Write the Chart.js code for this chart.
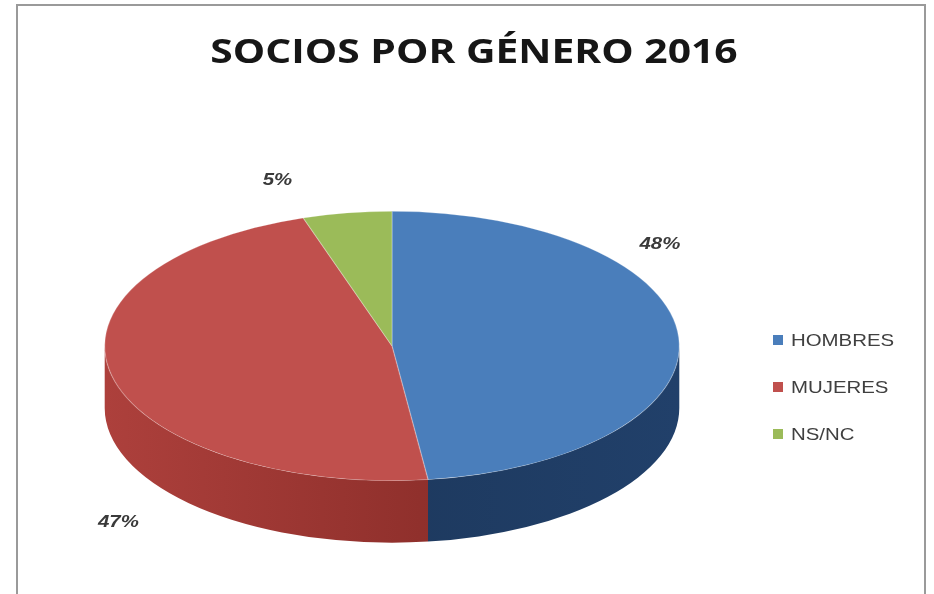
<!DOCTYPE html>
<html lang="es">
<head>
<meta charset="utf-8">
<title>Socios por género 2016</title>
<script src="https://cdn.jsdelivr.net/npm/chart.js@4.4.1/dist/chart.umd.min.js"></script>
<style>
  html, body { margin: 0; padding: 0; background: #fff; }
  .wrap { position: relative; width: 934px; height: 594px; overflow: hidden; }
  .frame {
    position: absolute; left: 16px; top: 4px; width: 906px; height: 640px;
    border: 2px solid #9a9a9a; pointer-events: none;
  }
</style>
</head>
<body>
<div class="wrap">
  <canvas id="pieChart" width="934" height="594"></canvas>
  <div class="frame"></div>
</div>
<script>
const chartTitle = "SOCIOS POR GÉNERO 2016";
const labels = ["HOMBRES", "MUJERES", "NS/NC"];
const socios = [48, 47, 5];

const topColors = ["#4A7EBB", "#C0504D", "#9BBB59"];
// side wall shading, left stop -> right stop
const sideColors = [
  ["#1A3354", "#21406A"],
  ["#AD403C", "#78231F"],
  ["#6F8A3A", "#5E7730"],
];

// text stretched sideways, like the rest of the sheet
function wideText(ctx, text, x, y, stretch) {
  ctx.save();
  ctx.translate(x, y);
  ctx.scale(stretch, 1);
  ctx.fillText(text, 0, 0);
  ctx.restore();
}

// fake 3D: squash the pie into an ellipse and draw a wall under the front half
const pie3d = {
  id: "pie3d",
  beforeDatasetsDraw(chart, args, opts) {
    const ctx = chart.ctx;
    const arcs = chart.getDatasetMeta(0).data;
    const { x, y, outerRadius } = arcs[0];
    const rx = outerRadius * opts.scaleX;
    const ry = outerRadius * opts.scaleY;
    const ey = y - opts.depth / 2;

    arcs.forEach((arc, i) => {
      const a1 = Math.max(arc.startAngle, 0);
      const a2 = Math.min(arc.endAngle, Math.PI);
      if (a2 <= a1) return;
      const g = ctx.createLinearGradient(x - rx, 0, x + rx, 0);
      g.addColorStop(0, sideColors[i][0]);
      g.addColorStop(1, sideColors[i][1]);
      ctx.beginPath();
      ctx.ellipse(x, ey, rx, ry, 0, a1, a2);
      ctx.ellipse(x, ey + opts.depth, rx, ry, 0, a2, a1, true);
      ctx.closePath();
      ctx.fillStyle = g;
      ctx.fill();
    });

    ctx.save();
    ctx.translate(x, ey);
    ctx.scale(opts.scaleX, opts.scaleY);
    ctx.translate(-x, -y);
  },
  afterDatasetsDraw(chart, args, opts) {
    const ctx = chart.ctx;
    ctx.restore();

    const arcs = chart.getDatasetMeta(0).data;
    const { x, y, outerRadius } = arcs[0];
    const rx = outerRadius * opts.scaleX;
    const ry = outerRadius * opts.scaleY;
    const ey = y - opts.depth / 2;
    const values = chart.data.datasets[0].data;
    const total = values.reduce((s, v) => s + v, 0);

    // percentage labels
    ctx.save();
    ctx.font = opts.labelFont;
    ctx.fillStyle = "#3a3a3a";
    ctx.textAlign = "center";
    ctx.textBaseline = "middle";
    values.forEach((v, i) => {
      const spot = opts.labelSpots[i];
      const a = spot.angle * Math.PI / 180;
      const lx = x + Math.sin(a) * rx * spot.dist;
      const ly = ey - Math.cos(a) * ry * spot.dist;
      wideText(ctx, Math.round(v / total * 100) + "%", lx, ly, opts.stretch);
    });
    ctx.restore();

    // legend
    const lg = opts.legend;
    ctx.save();
    ctx.font = lg.font;
    ctx.textBaseline = "middle";
    ctx.textAlign = "left";
    chart.data.labels.forEach((name, i) => {
      const rowY = lg.top + i * lg.gap;
      ctx.fillStyle = topColors[i];
      ctx.fillRect(lg.left, rowY - lg.box / 2, lg.box, lg.box);
      ctx.fillStyle = "#404040";
      wideText(ctx, name, lg.left + lg.box + 8, rowY + 1, opts.stretch);
    });
    ctx.restore();

    // title
    const tt = opts.title;
    ctx.save();
    ctx.font = tt.font;
    ctx.fillStyle = "#161616";
    ctx.textAlign = "center";
    ctx.textBaseline = "middle";
    wideText(ctx, chartTitle, tt.x, tt.y, opts.stretch);
    ctx.restore();
  },
};

new Chart(document.getElementById("pieChart"), {
  type: "pie",
  data: {
    labels: labels,
    datasets: [
      {
        data: socios,
        backgroundColor: topColors,
        borderColor: "rgba(255,255,255,0.25)",
        borderWidth: 1,
        clip: false,
      },
    ],
  },
  options: {
    responsive: false,
    animation: false,
    events: [],
    layout: { padding: { left: 19, right: 169, top: 160, bottom: 0 } },
    plugins: {
      legend: { display: false },
      tooltip: { enabled: false },
      title: { display: false },
      pie3d: {
        scaleX: 1.327,
        scaleY: 0.622,
        depth: 62,
        stretch: 1.2,
        labelFont: "italic bold 17px 'Liberation Sans', sans-serif",
        labelSpots: [
          { angle: 51, dist: 1.2 },
          { angle: 216, dist: 1.62 },
          { angle: 342, dist: 1.29 },
        ],
        legend: {
          left: 773, top: 340, gap: 47, box: 10,
          font: "17px 'Liberation Sans', sans-serif",
        },
        title: {
          x: 474, y: 53,
          font: "bold 34px 'Open Sans', sans-serif",
        },
      },
    },
  },
  plugins: [pie3d],
});
</script>
</body>
</html>
